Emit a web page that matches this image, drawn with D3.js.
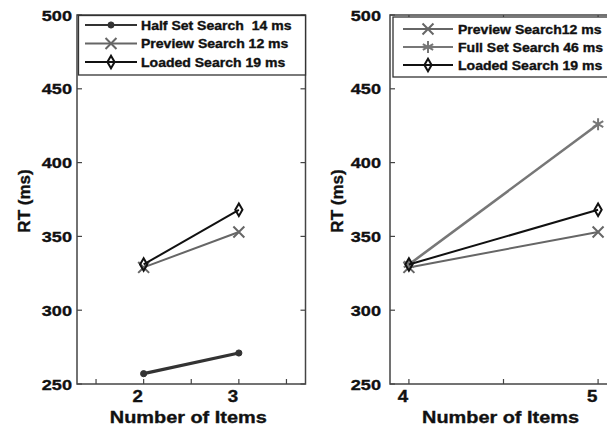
<!DOCTYPE html>
<html>
<head>
<meta charset="utf-8">
<script src="https://cdn.jsdelivr.net/npm/d3@7"></script>
<style>
  body { margin: 0; background: #fff; }
  text { font-family: "Liberation Sans", Arial, sans-serif; font-weight: bold; fill: #111; stroke: #111; stroke-width: 0.35; white-space: pre; }
</style>
</head>
<body>
<svg id="chart" width="607" height="431"></svg>
<script>
// values
const leftItems = [2, 3];
const halfSetRT = [257, 271];
const previewRT = [329, 353];
const loadedRT = [331, 368];

const rightItems = [4, 5];
const previewRT2 = [329, 353];
const fullSetRT = [331, 426];
const loadedRT2 = [331, 368];

const yTicks = [250, 300, 350, 400, 450, 500];
const leftXTicks = [1.5, 2, 2.5, 3, 3.5];
const rightXTicks = [4, 4.5, 5];

const STRETCH = 1.17; // the picture is a bit wider than it is tall

const svg = d3.select('#chart');

// series styles
const styles = {
    half: { color: '#333', width: 3.2, symbol: d3.symbolCircle, size: 30, fill: true },
    preview: { color: '#666', width: 2, symbol: d3.symbolTimes, size: 80, fill: false },
    loaded: { color: '#111', width: 2, symbol: d3.symbolDiamond, size: 45, fill: false },
    full: { color: '#777', width: 2.6, symbol: d3.symbolAsterisk, size: 100, fill: false },
};

function stretchedText(g, x, y, str, size, anchor) {
    return g.append('text')
        .attr('transform', `translate(${x},${y}) scale(${STRETCH},1)`)
        .attr('font-size', size)
        .attr('text-anchor', anchor || 'start')
        .text(str);
}

function drawMarker(g, x, y, st) {
    g.append('path')
        .attr('transform', `translate(${x},${y})`)
        .attr('d', d3.symbol(st.symbol, st.size)())
        .attr('fill', st.fill ? st.color : 'none')
        .attr('stroke', st.color)
        .attr('stroke-width', st.fill ? 1 : 2);
}

function drawPanel(cfg) {
    const g = svg.append('g');
    const x = d3.scaleLinear().domain(cfg.xDomain).range([cfg.left, cfg.right]);
    const y = d3.scaleLinear().domain([250, 500]).range([384, 15]);
    const axisColor = '#444';

    // y tick labels
    yTicks.forEach(t => {
        stretchedText(g, cfg.left - cfg.yLabelGap, y(t) + 5.5, String(t), 15.5, 'end');
    });

    // x ticks (inward, bottom and top) and labels
    cfg.xTicks.forEach(t => {
        g.append('line').attr('x1', x(t)).attr('x2', x(t)).attr('y1', 384).attr('y2', 379)
            .attr('stroke', axisColor).attr('stroke-width', 1.2);
        g.append('line').attr('x1', x(t)).attr('x2', x(t)).attr('y1', 15).attr('y2', 20)
            .attr('stroke', axisColor).attr('stroke-width', 1.2);
        if (Number.isInteger(t)) stretchedText(g, x(t) - 6, 402, String(t), 16, 'middle');
    });
    yTicks.forEach(t => {
        g.append('line').attr('x1', cfg.left).attr('x2', cfg.left + 5).attr('y1', y(t)).attr('y2', y(t))
            .attr('stroke', axisColor).attr('stroke-width', 1.2);
        g.append('line').attr('x1', cfg.right).attr('x2', cfg.right - 5).attr('y1', y(t)).attr('y2', y(t))
            .attr('stroke', axisColor).attr('stroke-width', 1.2);
    });

    // box
    g.append('rect')
        .attr('x', cfg.left).attr('y', 15)
        .attr('width', cfg.right - cfg.left).attr('height', 384 - 15)
        .attr('fill', 'none').attr('stroke', axisColor).attr('stroke-width', 1.5);

    // axis titles
    stretchedText(g, (cfg.left + cfg.right) / 2 - 3, 423, 'Number of Items', 17, 'middle');
    g.append('text')
        .attr('transform', `translate(${cfg.yTitleX},201) rotate(-90)`)
        .attr('font-size', 17)
        .attr('text-anchor', 'middle')
        .text('RT (ms)');

    // series
    const line = d3.line().x(d => x(d[0])).y(d => y(d[1]));
    cfg.series.forEach(s => {
        const st = styles[s.key];
        const pts = cfg.items.map((v, i) => [v, s.values[i]]);
        g.append('path').datum(pts)
            .attr('d', line)
            .attr('fill', 'none')
            .attr('stroke', st.color)
            .attr('stroke-width', st.width);
        pts.forEach(p => drawMarker(g, x(p[0]), y(p[1]), st));
    });

    // legend
    const lg = cfg.legend;
    g.append('rect')
        .attr('x', lg.x).attr('y', lg.y)
        .attr('width', lg.w).attr('height', lg.h)
        .attr('fill', '#fff').attr('stroke', '#333').attr('stroke-width', 1.3);
    cfg.series.forEach((s, i) => {
        const st = styles[s.key];
        const ry = lg.rows[i];
        g.append('line')
            .attr('x1', lg.lineX0).attr('x2', lg.lineX1).attr('y1', ry).attr('y2', ry)
            .attr('stroke', st.color).attr('stroke-width', Math.min(st.width, 2));
        drawMarker(g, (lg.lineX0 + lg.lineX1) / 2, ry, st);
        stretchedText(g, lg.textX, ry + 4.5, s.label, 12, 'start');
    });
}

drawPanel({
    left: 77, right: 305.5,
    xDomain: [1.3, 3.7],
    xTicks: leftXTicks,
    items: leftItems,
    yLabelGap: 5,
    yTitleX: 30,
    series: [
        { key: 'half', values: halfSetRT, label: 'Half Set Search  14 ms' },
        { key: 'preview', values: previewRT, label: 'Preview Search 12 ms' },
        { key: 'loaded', values: loadedRT, label: 'Loaded Search 19 ms' },
    ],
    legend: { x: 78.5, y: 15.5, w: 227, h: 59.5, rows: [25, 43.5, 62], lineX0: 85, lineX1: 137, textX: 141 },
});

drawPanel({
    left: 390, right: 617,
    xDomain: [3.9, 5.1],
    xTicks: rightXTicks,
    items: rightItems,
    yLabelGap: 9,
    yTitleX: 343,
    series: [
        { key: 'preview', values: previewRT2, label: 'Preview Search12 ms' },
        { key: 'full', values: fullSetRT, label: 'Full Set Search 46 ms' },
        { key: 'loaded', values: loadedRT2, label: 'Loaded Search 19 ms' },
    ],
    legend: { x: 393, y: 17, w: 230, h: 60, rows: [29, 47, 65], lineX0: 403, lineX1: 453, textX: 458 },
});
</script>
</body>
</html>
